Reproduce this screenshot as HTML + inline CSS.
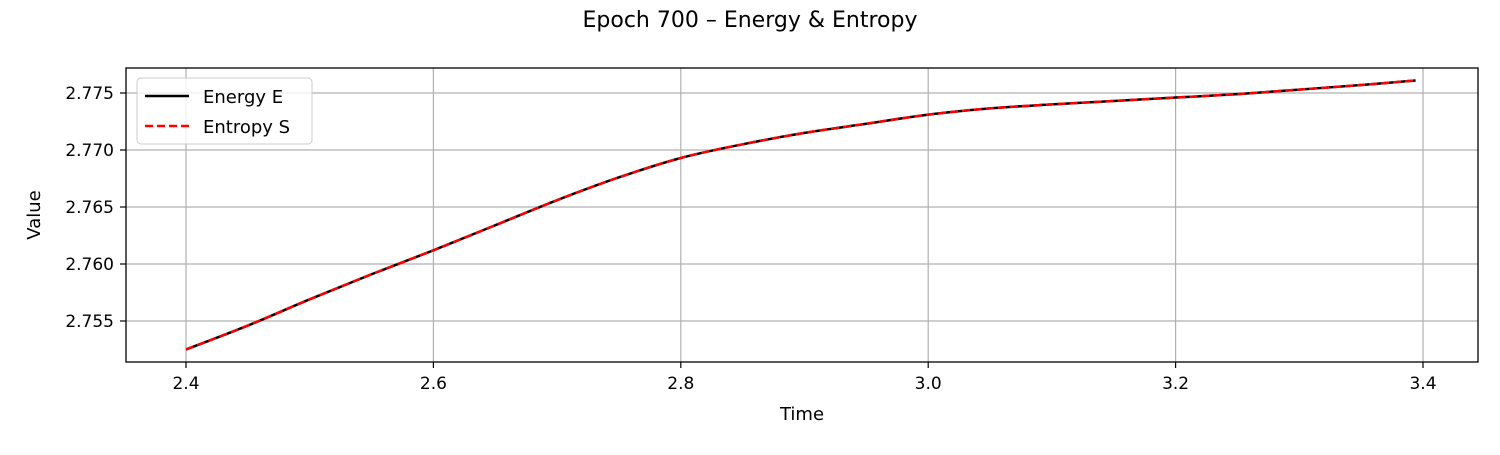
<!DOCTYPE html>
<html><head><meta charset="utf-8"><style>
body{margin:0;background:#fff;font-family:"Liberation Sans","DejaVu Sans",sans-serif;}
svg text{font-family:"DejaVu Sans","Liberation Sans",sans-serif;}
</style></head><body>
<svg id="c" width="1500" height="450" xmlns="http://www.w3.org/2000/svg">
<text x="750" y="27" font-size="22" text-anchor="middle">Epoch 700 – Energy &amp; Entropy</text>
<g id="grid"></g>
<g id="series"></g>
<rect x="126" y="68" width="1352" height="294" fill="none" stroke="#000" stroke-width="1.3"/>
<g id="ticks"></g>
<text x="802" y="420" font-size="18" text-anchor="middle">Time</text>
<text transform="translate(40,215) rotate(-90)" font-size="18" text-anchor="middle">Value</text>
<g>
<rect x="137" y="78" width="175" height="66" rx="4" fill="#fff" fill-opacity="0.8" stroke="#ccc"/>
<line x1="145" y1="96" x2="189" y2="96" stroke="#000" stroke-width="2.5"/>
<text x="203" y="103" font-size="18">Energy E</text>
<line x1="145" y1="126" x2="189" y2="126" stroke="red" stroke-width="2.5" stroke-dasharray="8,4"/>
<text x="203" y="133" font-size="18">Entropy S</text>
</g>
</svg>
<script>
const times=[2.4,2.45,2.5,2.55,2.6,2.65,2.7,2.75,2.8,2.85,2.9,2.95,3.0,3.05,3.1,3.15,3.2,3.25,3.3,3.35,3.394];
const energy=[2.7525,2.7546,2.7569,2.7591,2.7612,2.7634,2.7656,2.7676,2.7693,2.7705,2.7715,2.7723,2.7731,2.77365,2.7740,2.7743,2.7746,2.7749,2.7753,2.7757,2.7761];
const entropy=[2.7525,2.7546,2.7569,2.7591,2.7612,2.7634,2.7656,2.7676,2.7693,2.7705,2.7715,2.7723,2.7731,2.77365,2.7740,2.7743,2.7746,2.7749,2.7753,2.7757,2.7761];
const xTicks=[2.4,2.6,2.8,3.0,3.2,3.4];
const xTickLabels=["2.4","2.6","2.8","3.0","3.2","3.4"];
const yTicks=[2.755,2.760,2.765,2.770,2.775];
const yTickLabels=["2.755","2.760","2.765","2.770","2.775"];
const X=t=>186+(t-2.4)*1237;
const Y=v=>93+(2.775-v)*11400;
const NS="http://www.w3.org/2000/svg";
function mk(tag,attrs,parent){const e=document.createElementNS(NS,tag);for(const k in attrs)e.setAttribute(k,attrs[k]);document.getElementById(parent).appendChild(e);return e;}
xTicks.forEach((t,i)=>{
 const g=mk('line',{x1:X(t),x2:X(t),y1:68,y2:362,stroke:'#b0b0b0','stroke-width':1.2},'grid');
 
 
 const tk=mk('line',{x1:X(t),x2:X(t),y1:362,y2:368,stroke:'#000','stroke-width':1.2},'ticks');
 
 
 const l=mk('text',{x:X(t),y:389,'font-size':17,'text-anchor':'middle'},'ticks');l.textContent=xTickLabels[i];
 
 
});
yTicks.forEach((v,i)=>{
 const g=mk('line',{x1:126,x2:1478,y1:Y(v),y2:Y(v),stroke:'#b0b0b0','stroke-width':1.2},'grid');
 
 
 const tk=mk('line',{x1:120,x2:126,y1:Y(v),y2:Y(v),stroke:'#000','stroke-width':1.2},'ticks');
 
 
 const l=mk('text',{x:114,y:Y(v)+6,'font-size':17,'text-anchor':'end'},'ticks');l.textContent=yTickLabels[i];
 
 
});
function path(vals){
 const p=times.map((t,i)=>[X(t),Y(vals[i])]);
 let d='M'+p[0][0]+','+p[0][1];
 for(let i=0;i<p.length-1;i++){
  const p0=p[i-1]||p[i],p1=p[i],p2=p[i+1],p3=p[i+2]||p2;
  d+=' C'+(p1[0]+(p2[0]-p0[0])/6)+','+(p1[1]+(p2[1]-p0[1])/6)+' '+(p2[0]-(p3[0]-p1[0])/6)+','+(p2[1]-(p3[1]-p1[1])/6)+' '+p2[0]+','+p2[1];
 }
 return d;
}
const e=mk('path',{d:path(energy),fill:'none',stroke:'#000','stroke-width':2.5},'series');


const s=mk('path',{d:path(entropy),fill:'none',stroke:'red','stroke-width':2.5,'stroke-dasharray':'8,4'},'series');


</script>
</body></html>
